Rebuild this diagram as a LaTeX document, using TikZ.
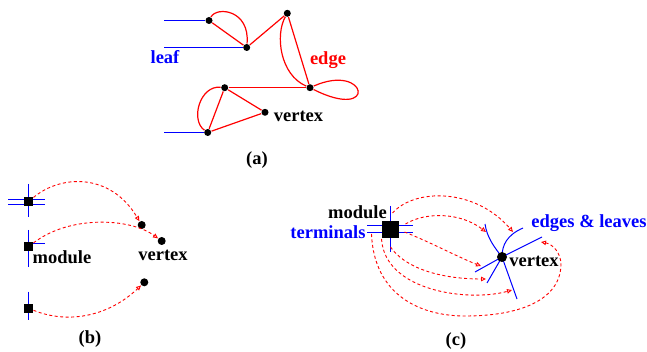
\documentclass[tikz,border=0pt]{standalone}
\usepackage{fontspec}
\setmainfont{Liberation Serif}
\usetikzlibrary{arrows.meta}
\tikzset{
  dot/.style={circle,fill=black,inner sep=0pt,minimum size=7pt},
  bigdot/.style={circle,fill=black,inner sep=0pt,minimum size=10pt},
  modsq/.style={fill=black,inner sep=0pt,minimum size=9pt},
  bigsq/.style={fill=black,inner sep=0pt,minimum size=17pt},
  edg/.style={draw=red,line width=1.2pt},
  lf/.style={draw=blue,line width=1pt},
  lnk/.style={draw=red,line width=.9pt,dash pattern=on 3pt off 2.5pt,-{Triangle[open,length=5pt,width=4.5pt]}},
}
\begin{document}
\begin{tikzpicture}[x=1pt,y=-1pt,line width=1pt,font=\fontsize{18.5}{20}\selectfont\bfseries]
  \useasboundingbox (0,0) rectangle (647,352);
  % (a)
  \coordinate (la) at (164,20.5); \coordinate (lb) at (164,47.5); \coordinate (lg) at (164,132.5);
  \node[dot] (A) at (209,20.5) {};
  \node[dot] (B) at (246.7,47.5) {};
  \node[dot] (C) at (287.3,13.3) {};
  \node[dot] (D) at (310,87.7) {};
  \node[dot] (E) at (224.7,87.7) {};
  \node[dot] (F) at (265,112.3) {};
  \node[dot] (G) at (207.7,132.5) {};
  \draw[lf] (la)--(A); \draw[lf] (lb)--(B); \draw[lf] (lg)--(G);
  \draw[edg] (A)--(B); \draw[edg] (B)--(C); \draw[edg] (C)--(D); \draw[edg] (D)--(E);
  \draw[edg] (E)--(F); \draw[edg] (F)--(G); \draw[edg] (G)--(E);
  \draw[edg] (A) .. controls (217,6) and (250,10) .. (B);
  \draw[edg] (C) .. controls (275,35) and (280,75) .. (D);
  \draw[edg] (D) .. controls (368,62) and (378,122) .. (D);
  \draw[edg] (E) .. controls (200,85) and (190,120) .. (G);
  \node[blue] (leaf) at (165,57) {leaf};
  \node[red] (edge) at (328,60) {edge};
  \node (vxa) at (298.5,116) {vertex};
  \node (capa) at (257,160) {(a)};
  % (b)
  \draw[lf] (28.5,184)--(28.5,216.7); \draw[lf] (8.3,199.5)--(45,199.5); \draw[lf] (8.3,204.5)--(45,204.5);
  \draw[lf] (28.5,230)--(28.5,266.7); \draw[lf] (28.5,243.5)--(45,243.5);
  \draw[lf] (28.5,291.7)--(28.5,320);
  \node[modsq] (sq1) at (28.5,201.7) {};
  \node[modsq] (sq2) at (28.5,246.7) {};
  \node[modsq] (sq3) at (28.5,308.3) {};
  \node[dot,minimum size=8pt] (v1) at (141.7,225) {};
  \node[dot,minimum size=8pt] (v2) at (161.7,241) {};
  \node[dot,minimum size=8pt] (v3) at (144.3,282.3) {};
  \draw[lnk] (sq1) .. controls (60,175) and (110,172) .. (v1);
  \draw[lnk] (sq2) .. controls (70,215) and (130,218) .. (v2);
  \draw[lnk] (sq3) .. controls (70,325) and (110,315) .. (v3);
  \node (modb) at (62,257) {module};
  \node (vxb) at (163,255) {vertex};
  \node (capb) at (90,339) {(b)};
  % (c)
  \draw[lf] (390.5,206)--(390.5,252); \draw[lf] (367,225.5)--(413,225.5); \draw[lf] (367,232.5)--(413,232.5);
  \node[bigsq] (mod) at (390.5,230) {};
  \coordinate (vc) at (502,257);
  \coordinate (ea1) at (475,272); \coordinate (ea2) at (542,237);
  \coordinate (eb1) at (523,228); \coordinate (eb2) at (487,283);
  \coordinate (ec1) at (485,224); \coordinate (ec2) at (517,299);
  \draw[lf] (ea1)--(vc)--(ea2);
  \draw[lf] (eb1) .. controls (507,235) and (502,245) .. (vc) -- (eb2);
  \draw[lf] (ec1) .. controls (487,238) and (495,248) .. (vc) -- (ec2);
  \node[bigdot] (vx) at (vc) {};
  \coordinate (a1) at (513,232); \coordinate (a2) at (486,232); \coordinate (a3) at (481,266);
  \coordinate (a4) at (486,279); \coordinate (a5) at (512,290); \coordinate (a6) at (541,242);
  \draw[lnk] ([xshift=2pt,yshift=8pt]mod.north) .. controls (415,188) and (475,188) .. (a1);
  \draw[lnk] ([xshift=6pt,yshift=6pt]mod.east) .. controls (425,212) and (460,212) .. (a2);
  \draw[lnk] ([xshift=5pt,yshift=-2pt]mod.east) .. controls (430,242) and (460,258) .. (a3);
  \draw[lnk] ([yshift=-8pt]mod.south) .. controls (405,268) and (440,279) .. (a4);
  \draw[lnk] (mod.south west) .. controls (385,292) and (470,302) .. (a5);
  \draw[lnk] ([xshift=-10pt,yshift=-4pt]mod.west) .. controls (374,295) and (420,316) .. (465,316)
    .. controls (520,316) and (560,300) .. (561,265) .. controls (561,252) and (552,244) .. (a6);
  \node (modc) at (357.5,212) {module};
  \node[blue] (term) at (328,232) {terminals};
  \node[blue] (edl) at (589,223) {edges \& leaves};
  \node (vxc) at (534,261) {vertex};
  \node (capc) at (456,341) {(c)};
\end{tikzpicture}
\end{document}
